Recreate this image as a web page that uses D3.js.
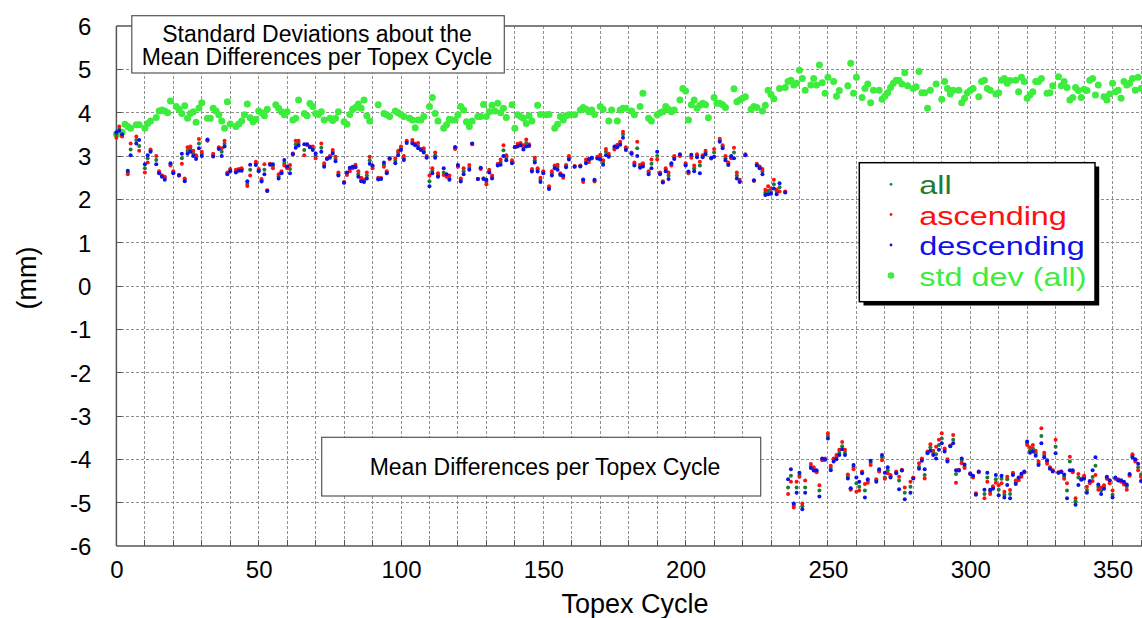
<!DOCTYPE html>
<html>
<head>
<meta charset="utf-8">
<script src="https://cdn.jsdelivr.net/npm/d3@7"></script>
<style>
  html, body { margin: 0; padding: 0; background: #fff; }
  svg { display: block; }
  text { font-family: "Liberation Sans", Arial, Helvetica, sans-serif; }
</style>
</head>
<body>
<div id="chart"></div>
<script>
// ---------------- data ----------------
const xTicks = [0, 50, 100, 150, 200, 250, 300, 350];
const yTicks = [-6, -5, -4, -3, -2, -1, 0, 1, 2, 3, 4, 5, 6];
const legendLabels = ["all", "ascending", "descending", "std dev (all)"];
const titleLines = ["Standard Deviations about the", "Mean Differences per Topex Cycle"];
const subtitle = "Mean Differences per Topex Cycle";

const meanCycle = [0,1,2,4,5,7,8,10,11,12,14,15,16,17,19,20,22,23,24,25,26,27,28,29,30,32,34,36,37,38,39,40,42,43,44,46,47,49,50,51,52,53,54,55,57,58,59,60,61,62,63,64,66,67,68,69,70,72,73,74,75,76,77,78,80,81,82,83,84,85,86,87,88,89,90,92,93,94,95,96,98,99,100,101,102,104,105,106,107,108,109,110,111,112,113,115,116,117,119,120,121,122,124,125,127,128,129,130,131,132,134,135,136,137,139,140,141,142,143,144,145,146,147,148,149,150,152,153,154,155,156,157,158,159,161,163,164,165,166,167,168,169,170,171,172,173,175,176,177,178,179,181,182,183,184,185,187,188,190,191,192,193,194,195,196,198,200,201,202,203,204,205,206,207,209,210,212,213,214,215,216,217,218,219,221,224,225,226,227,228,229,230,231,232,233,235,
236,237,238,239,240,241,242,244,245,246,247,248,249,250,251,252,253,254,255,256,257,258,259,260,261,262,263,264,265,267,268,269,270,271,272,274,275,276,277,279,280,282,283,284,285,286,287,288,289,290,291,292,293,294,295,296,297,298,300,301,302,303,305,306,307,308,309,310,311,312,313,314,315,316,317,318,319,320,321,322,323,324,325,326,327,328,329,330,331,332,333,334,335,336,337,338,339,340,341,342,343,344,345,346,347,348,349,350,351,352,353,354,355,356,357,358,359,360];

const meanAsc = [3.42,3.68,3.45,2.58,3.29,3.45,3.12,2.62,2.85,3.15,3.00,2.65,2.55,2.52,2.78,2.65,2.55,2.82,2.48,3.20,3.22,3.12,3.02,3.39,3.10,3.35,3.05,3.20,3.18,3.35,2.62,2.70,2.68,2.70,2.72,2.31,2.55,2.87,2.70,2.47,2.81,2.21,2.82,2.72,2.58,2.65,2.78,2.72,2.79,3.06,3.35,3.35,3.02,3.26,3.22,3.22,2.95,3.29,2.83,2.95,3.00,3.14,2.98,2.62,2.40,2.56,2.65,2.72,2.80,2.65,2.50,2.46,2.62,2.98,2.72,2.50,2.49,2.75,2.65,2.93,2.95,3.12,3.22,3.00,3.35,3.37,3.28,3.30,3.16,3.18,3.00,2.55,2.72,3.08,2.60,2.56,2.52,2.55,3.16,2.75,2.48,2.72,2.79,3.27,2.47,2.70,2.48,2.35,2.68,2.55,2.82,2.92,3.25,3.02,2.90,3.20,3.28,3.30,3.25,3.38,3.27,2.70,2.96,2.72,2.50,2.65,2.30,2.65,2.78,2.80,2.60,2.50,2.79,3.00,2.77,2.78,2.40,2.92,2.86,2.94,2.41,2.98,3.03,2.90,3.16,3.05,3.15,3.26,3.33,3.56,3.20,3.08,2.85,3.33,2.80,2.83,2.65,2.92,2.92,2.62,2.42,2.72,2.62,2.78,3.00,3.00,2.83,2.60,2.96,2.78,3.04,2.87,3.02,3.12,2.94,3.16,3.40,3.25,3.00,2.85,2.95,3.19,2.62,2.45,3.04,2.43,2.82,2.76,2.70,2.22,2.30,2.25,2.45,2.22,2.18,2.18,
-4.80,-4.52,-5.11,-4.52,-4.40,-5.02,-4.49,-4.11,-4.18,-4.30,-4.60,-4.02,-3.98,-3.40,-4.15,-3.98,-3.90,-3.78,-3.60,-3.78,-4.35,-4.70,-4.23,-4.75,-4.72,-4.28,-4.57,-4.54,-4.13,-4.46,-4.28,-4.02,-4.45,-4.32,-4.36,-4.28,-4.40,-4.24,-4.65,-4.52,-4.42,-4.09,-3.98,-4.44,-3.82,-3.65,-3.80,-3.71,-3.55,-3.40,-3.75,-4.00,-3.68,-3.44,-4.54,-4.24,-4.09,-4.20,-4.32,-4.42,-4.78,-4.30,-4.90,-4.52,-4.80,-4.62,-4.54,-4.60,-4.55,-4.75,-4.40,-4.71,-4.31,-4.49,-4.48,-4.40,-4.30,-3.67,-3.72,-3.67,-3.80,-4.05,-3.28,-3.85,-4.10,-4.20,-4.25,-3.55,-4.30,-4.28,-4.45,-4.55,-3.94,-4.30,-4.90,-4.34,-4.45,-4.38,-4.63,-4.55,-4.50,-4.36,-4.70,-4.65,-4.60,-4.45,-4.55,-4.72,-4.45,-4.46,-4.52,-4.58,-4.70,-4.38,-3.88,-4.05,-4.25,-4.40];

const meanAll = [3.50,3.62,3.47,2.62,3.15,3.37,3.23,2.72,2.95,3.12,2.91,2.62,2.55,2.50,2.80,2.62,2.55,2.95,2.45,3.12,3.16,3.06,2.98,3.29,3.05,3.36,3.02,3.18,3.10,3.28,2.60,2.68,2.65,2.68,2.69,2.36,2.68,2.83,2.67,2.44,2.68,2.20,2.81,2.77,2.53,2.62,2.84,2.74,2.70,3.05,3.27,3.30,3.14,3.26,3.21,3.18,3.00,3.19,2.79,2.94,2.98,3.10,2.93,2.58,2.39,2.60,2.70,2.74,2.77,2.58,2.45,2.44,2.55,2.90,2.75,2.48,2.48,2.80,2.62,2.94,2.89,3.08,3.18,2.95,3.33,3.33,3.26,3.23,3.15,3.12,2.98,2.42,2.66,3.02,2.55,2.62,2.55,2.48,3.18,2.77,2.45,2.65,2.73,3.28,2.47,2.72,2.48,2.40,2.65,2.52,2.80,2.86,3.13,2.96,2.87,3.20,3.25,3.27,3.20,3.30,3.25,2.67,2.90,2.68,2.45,2.63,2.27,2.60,2.76,2.75,2.58,2.52,2.76,2.96,2.76,2.77,2.43,2.86,2.90,2.95,2.43,2.96,2.97,2.85,3.10,3.02,3.18,3.24,3.30,3.50,3.17,3.06,2.82,3.18,2.76,2.80,2.62,2.82,3.00,2.60,2.40,2.68,2.55,2.80,2.97,3.02,2.80,2.62,3.00,2.72,3.00,2.78,2.99,3.08,2.95,3.08,3.36,3.22,2.95,2.82,2.97,3.08,2.55,2.42,3.03,2.43,2.80,2.75,2.65,2.15,2.20,2.17,2.35,2.18,2.28,2.17,
-4.65,-4.38,-5.06,-4.65,-4.36,-5.08,-4.65,-4.17,-4.22,-4.28,-4.72,-4.00,-4.00,-3.46,-4.20,-4.00,-3.95,-3.85,-3.70,-3.85,-4.40,-4.68,-4.18,-4.55,-4.63,-4.30,-4.72,-4.50,-4.08,-4.49,-4.26,-3.95,-4.42,-4.25,-4.39,-4.30,-4.49,-4.25,-4.77,-4.63,-4.43,-4.17,-4.00,-4.36,-3.84,-3.72,-3.85,-3.88,-3.67,-3.52,-3.78,-4.02,-3.69,-3.55,-4.34,-4.25,-4.03,-4.17,-4.33,-4.40,-4.80,-4.29,-4.80,-4.42,-4.75,-4.65,-4.46,-4.70,-4.45,-4.82,-4.46,-4.80,-4.34,-4.53,-4.45,-4.36,-4.30,-3.63,-3.79,-3.75,-3.86,-4.10,-3.46,-3.90,-4.05,-4.18,-4.26,-3.71,-4.31,-4.28,-4.40,-4.72,-4.05,-4.27,-4.97,-4.42,-4.46,-4.40,-4.71,-4.52,-4.41,-4.15,-4.63,-4.72,-4.63,-4.42,-4.50,-4.82,-4.44,-4.48,-4.50,-4.54,-4.62,-4.36,-3.92,-4.02,-4.18,-4.35];

const meanDesc = [3.55,3.58,3.50,2.66,3.02,3.29,3.37,2.81,3.02,3.10,2.81,2.60,2.52,2.45,2.83,2.60,2.56,3.05,2.42,3.05,3.10,3.00,2.93,3.18,3.00,3.38,2.99,3.16,3.00,3.22,2.58,2.65,2.62,2.66,2.66,2.42,2.80,2.79,2.65,2.41,2.58,2.19,2.80,2.81,2.48,2.60,2.91,2.76,2.60,3.04,3.19,3.24,3.27,3.27,3.20,3.14,3.06,3.10,2.75,2.93,2.96,3.06,2.88,2.55,2.38,2.62,2.73,2.75,2.74,2.52,2.42,2.40,2.48,2.82,2.78,2.46,2.47,2.85,2.60,2.95,2.83,3.02,3.14,2.91,3.30,3.29,3.25,3.18,3.14,3.08,2.96,2.30,2.60,2.96,2.52,2.72,2.58,2.45,3.21,2.79,2.41,2.58,2.68,3.29,2.47,2.73,2.47,2.45,2.62,2.48,2.78,2.80,3.00,2.90,2.83,3.21,3.22,3.25,3.15,3.22,3.23,2.64,2.85,2.64,2.40,2.60,2.24,2.55,2.72,2.68,2.56,2.55,2.74,2.92,2.75,2.76,2.46,2.83,2.93,2.96,2.45,2.94,2.92,2.80,3.02,2.98,3.22,3.20,3.26,3.42,3.14,3.05,2.78,3.00,2.73,2.76,2.58,2.72,3.10,2.58,2.39,2.65,2.47,2.83,2.93,3.04,2.78,2.64,3.03,2.65,2.97,2.60,2.97,3.04,2.96,2.98,3.33,3.18,2.90,2.79,3.00,2.95,2.48,2.40,3.02,2.44,2.78,2.72,2.58,2.10,2.12,2.13,2.25,2.12,2.37,2.16,
-4.46,-4.23,-5.02,-4.77,-4.31,-5.15,-4.77,-4.20,-4.26,-4.25,-4.86,-3.98,-4.01,-3.52,-4.25,-4.05,-4.00,-3.90,-3.77,-3.90,-4.44,-4.67,-4.13,-4.42,-4.52,-4.32,-4.88,-4.46,-4.03,-4.52,-4.23,-3.90,-4.31,-4.18,-4.42,-4.32,-4.69,-4.26,-4.92,-4.77,-4.44,-4.22,-4.03,-4.23,-3.86,-3.80,-3.90,-3.98,-3.78,-3.63,-3.82,-4.05,-3.70,-3.63,-4.25,-4.26,-3.98,-4.12,-4.34,-4.38,-4.82,-4.28,-4.70,-4.31,-4.70,-4.68,-4.36,-4.83,-4.38,-4.88,-4.59,-4.90,-4.36,-4.57,-4.42,-4.33,-4.28,-3.59,-3.85,-3.82,-3.92,-4.13,-3.63,-3.95,-4.02,-4.22,-4.28,-3.86,-4.31,-4.29,-4.35,-4.90,-4.25,-4.25,-5.05,-4.59,-4.47,-4.45,-4.77,-4.50,-4.25,-3.95,-4.58,-4.80,-4.68,-4.40,-4.48,-4.88,-4.42,-4.49,-4.48,-4.52,-4.58,-4.34,-3.95,-4.00,-4.10,-4.50];

const sdCycle = [0,1,2,3,4,5,7,8,10,11,12,14,15,16,17,18,19,21,22,23,24,25,26,27,28,29,30,32,33,34,35,36,37,38,39,40,42,43,44,45,46,47,48,49,50,51,52,53,56,57,58,59,60,62,63,64,66,67,68,69,70,71,72,73,75,76,77,78,80,81,82,83,84,85,86,87,88,89,92,94,95,96,98,99,100,101,103,104,105,106,107,108,110,111,112,113,115,116,117,118,119,120,121,122,123,124,125,127,128,129,130,131,132,133,134,135,136,137,139,140,141,142,143,144,145,146,148,149,151,152,154,155,156,157,158,159,161,163,164,165,166,167,168,170,171,173,174,176,177,178,179,181,182,184,185,187,188,190,191,192,193,194,195,196,198,199,200,201,202,203,204,205,206,207,208,210,211,212,213,214,217,218,219,220,221,223,224,225,227,228,229,230,231,233,235,236,237,238,239,240,241,242,244,245,246,247,248,249,250,252,253,254,257,258,259,260,262,263,264,265,266,268,269,270,271,272,273,274,275,276,277,278,280,281,282,283,284,285,286,288,290,291,292,293,294,296,297,298,299,300,301,303,304,305,306,307,309,310,311,312,313,314,316,317,318,319,320,321,322,323,324,325,327,328,329,331,332,333,334,335,336,337,338,339,340,341,342,343,344,345,347,348,349,350,351,352,353,354,355,356,357,358,359,360];

const sdVal = [3.50,3.52,3.55,3.73,3.68,3.64,3.72,3.72,3.64,3.75,3.81,3.89,4.04,4.06,4.04,4.00,4.27,4.14,4.08,3.98,4.16,3.87,3.98,4.02,3.78,4.11,4.23,3.87,3.87,4.10,4.04,3.95,3.81,3.64,4.25,3.74,3.68,3.74,3.81,3.95,4.20,3.88,3.79,3.85,4.04,4.00,3.93,4.08,4.18,4.10,4.02,3.95,4.02,3.83,3.87,4.29,3.98,3.93,4.21,4.14,3.98,3.96,4.02,3.83,3.87,3.82,3.87,4.02,3.79,3.73,3.96,4.08,4.12,4.20,4.10,4.29,3.93,3.81,4.18,3.98,3.95,3.91,4.04,4.00,3.96,3.91,3.87,3.83,3.65,3.83,3.83,3.91,4.14,4.35,3.98,3.81,3.64,3.72,3.85,3.83,3.83,3.95,4.14,4.06,3.79,3.68,3.81,3.91,3.91,4.19,3.91,4.02,4.17,4.04,4.22,4.00,4.10,3.89,4.18,3.64,3.95,3.91,3.87,3.75,3.93,3.81,4.17,3.96,3.95,3.96,3.64,3.73,3.91,3.83,3.93,3.95,3.95,4.06,4.12,4.08,4.02,4.06,3.96,4.14,4.08,3.81,4.06,3.81,4.06,4.10,4.10,4.04,3.95,4.14,4.45,3.87,3.81,3.95,4.00,4.02,4.14,4.08,4.02,4.06,4.29,4.56,4.50,3.83,4.18,4.29,4.10,4.17,4.22,4.18,3.88,4.35,4.22,4.22,4.18,4.12,4.55,4.25,4.29,4.33,4.37,4.08,4.14,4.12,4.04,4.17,4.52,4.42,4.32,4.56,4.58,4.72,4.75,4.64,4.68,4.98,4.79,4.52,4.64,4.79,4.64,5.10,4.69,4.45,4.82,4.72,4.38,4.51,4.62,5.14,4.45,4.82,4.35,4.56,4.66,4.23,4.52,4.52,4.31,4.38,4.46,4.58,4.68,4.75,4.74,4.66,4.92,4.62,4.56,4.60,4.95,4.46,4.46,4.10,4.52,4.66,4.31,4.72,4.56,4.43,4.52,4.52,4.23,4.33,4.46,4.51,4.56,4.37,4.72,4.75,4.56,4.52,4.43,4.46,4.75,4.79,4.68,4.74,4.75,4.48,4.82,4.72,4.33,4.41,4.48,4.72,4.72,4.79,4.45,4.46,4.62,4.83,4.62,4.72,4.58,4.29,4.35,4.58,4.51,4.35,4.54,4.51,4.75,4.79,4.41,4.64,4.37,4.29,4.43,4.68,4.48,4.52,4.33,4.72,4.64,4.68,4.79,4.52,4.82,4.56];

const colAll = "#1e7d34", colAsc = "#ff1010", colDesc = "#1010e8", colSd = "#3ded3d";

// ---------------- chart ----------------
const W = 1142, H = 618;
const FONT = "'Liberation Sans', Arial, Helvetica, sans-serif";
const svg = d3.select("#chart").append("svg").attr("width", W).attr("height", H);

const x = d3.scaleLinear().domain([0, 360]).range([116.4, 1141.0]);
const y = d3.scaleLinear().domain([-6, 6]).range([546, 26]);

// grid
const grid = svg.append("g").attr("stroke", "#8f8f8f").attr("stroke-width", 1).attr("stroke-dasharray", "3,2").attr("shape-rendering", "crispEdges");
grid.selectAll("line.gx").data(d3.range(10, 361, 10)).join("line").attr("class", "gx")
  .attr("x1", d => x(d)).attr("x2", d => x(d)).attr("y1", y(6)).attr("y2", y(-6));
grid.selectAll("line.gy").data(d3.range(-5, 6, 1)).join("line").attr("class", "gy")
  .attr("y1", d => y(d)).attr("y2", d => y(d)).attr("x1", x(0)).attr("x2", W);

// inward ticks
const tk = svg.append("g").attr("stroke", "#555").attr("stroke-width", 1).attr("shape-rendering", "crispEdges");
tk.selectAll("line.tx").data(d3.range(10, 361, 10)).join("line").attr("class", "tx")
  .attr("x1", d => x(d)).attr("x2", d => x(d)).attr("y1", y(-6)).attr("y2", y(-6) - 6);
tk.selectAll("line.ty").data(d3.range(-5, 6, 1)).join("line").attr("class", "ty")
  .attr("y1", d => y(d)).attr("y2", d => y(d)).attr("x1", x(0)).attr("x2", x(0) + 6);

// frame
const fr = svg.append("g").attr("stroke", "#555").attr("stroke-width", 1.5).attr("fill", "none");
fr.append("line").attr("x1", x(0)).attr("x2", x(0)).attr("y1", y(6)).attr("y2", y(-6));
fr.append("line").attr("x1", x(0)).attr("x2", W).attr("y1", y(-6)).attr("y2", y(-6));
fr.append("line").attr("x1", x(0)).attr("x2", W).attr("y1", y(6)).attr("y2", y(6));

// axes labels via d3 axes
const xAxis = svg.append("g").attr("transform", `translate(0,${y(-6)})`)
  .call(d3.axisBottom(x).tickValues(xTicks).tickSize(0).tickPadding(15).tickFormat(d => String(d)));
xAxis.select(".domain").remove();
xAxis.selectAll("text").attr("font-size", 24).attr("fill", "#000").attr("font-family", FONT);

const yAxis = svg.append("g").attr("transform", `translate(${x(0)},0)`)
  .call(d3.axisLeft(y).tickValues(yTicks).tickSize(0).tickPadding(25).tickFormat(d => String(d)));
yAxis.select(".domain").remove();
yAxis.selectAll("text").attr("font-size", 24).attr("fill", "#000").attr("dy", "0.35em").attr("font-family", FONT);

svg.append("text").attr("x", 635).attr("y", 613).attr("text-anchor", "middle")
  .attr("font-size", 27).text("Topex Cycle");
svg.append("text").attr("transform", "translate(35.5,278) rotate(-90)").attr("text-anchor", "middle")
  .attr("font-size", 27).text("(mm)");

// data
const plot = svg.append("g");
plot.selectAll("circle.sd").data(sdCycle.map((c, i) => [c, sdVal[i]])).join("circle").attr("class", "sd")
  .attr("cx", d => x(d[0])).attr("cy", d => y(d[1])).attr("r", 3.5).attr("fill", colSd);
const series = [[meanAll, colAll], [meanAsc, colAsc], [meanDesc, colDesc]];
series.forEach(([vals, col], k) => {
  plot.selectAll("circle.m" + k).data(meanCycle.map((c, i) => [c, vals[i]])).join("circle").attr("class", "m" + k)
    .attr("cx", d => x(d[0])).attr("cy", d => y(d[1])).attr("r", 2).attr("fill", col);
});

// title box
const tb = svg.append("g");
tb.append("rect").attr("x", 131.8).attr("y", 15.7).attr("width", 372.5).attr("height", 57.3)
  .attr("fill", "#fff").attr("stroke", "#555").attr("stroke-width", 1.2);
tb.selectAll("text").data(titleLines).join("text").attr("x", 317).attr("y", (d, i) => 41.7 + i * 23.5)
  .attr("text-anchor", "middle").attr("font-size", 23).text(d => d);

// subtitle box
const sb = svg.append("g");
sb.append("rect").attr("x", 321.7).attr("y", 437.3).attr("width", 439).attr("height", 58.7)
  .attr("fill", "#fff").attr("stroke", "#555").attr("stroke-width", 1.2);
sb.append("text").attr("x", 545).attr("y", 475).attr("text-anchor", "middle").attr("font-size", 23).text(subtitle);

// legend
const lg = svg.append("g");
lg.append("rect").attr("x", 863.5).attr("y", 166.5).attr("width", 235.7).attr("height", 139).attr("fill", "#000");
lg.append("rect").attr("x", 859.3).attr("y", 162.7).attr("width", 235.7).attr("height", 139)
  .attr("fill", "#fff").attr("stroke", "#000").attr("stroke-width", 1.5);
const lgCols = [colAll, colAsc, colDesc, colSd];
const lgBase = [194.3, 224.5, 255, 285.5];
lg.selectAll("circle").data(legendLabels).join("circle")
  .attr("cx", 891).attr("cy", (d, i) => lgBase[i] - 10).attr("r", (d, i) => i === 3 ? 3.3 : 1.4)
  .attr("fill", (d, i) => lgCols[i]);
lg.selectAll("text").data(legendLabels).join("text")
  .attr("transform", (d, i) => `translate(919.3,${lgBase[i]}) scale(1.27,1)`)
  .attr("font-size", 25.5).attr("fill", (d, i) => lgCols[i]).text(d => d);
</script>
</body>
</html>
